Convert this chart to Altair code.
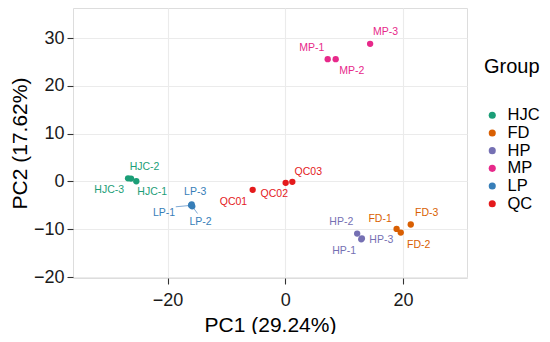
import altair as alt
import pandas as pd

samples = ["HJC-1", "HJC-2", "HJC-3", "FD-1", "FD-2", "FD-3", "HP-1", "HP-2", "HP-3",
           "MP-1", "MP-2", "MP-3", "LP-1", "LP-2", "LP-3", "QC01", "QC02", "QC03"]
groups = ["HJC"] * 3 + ["FD"] * 3 + ["HP"] * 3 + ["MP"] * 3 + ["LP"] * 3 + ["QC"] * 3
pc1 = [-25.3, -26.2, -26.7, 18.9, 19.6, 21.3, 12.9, 12.2, 13.0,
       7.2, 8.55, 14.4, -16.0, -15.8, -15.9, -5.54, 0.06, 1.19]
pc2 = [0.05, 0.6, 0.65, -9.93, -10.7, -9.0, -12.1, -10.9, -11.9,
       25.6, 25.6, 28.8, -5.0, -5.2, -4.8, -1.75, -0.28, -0.07]
label_x = [-22.6, -23.9, -29.9, 16.1, 22.65, 24.0, 10.0, 9.5, 16.3,
           4.5, 11.3, 17.0, -20.6, -14.4, -15.3, -8.8, -1.87, 3.9]
label_y = [-2.3, 3.06, -1.75, -7.76, -13.2, -6.7, -14.5, -8.5, -12.3,
           28.0, 23.2, 31.2, -6.5, -8.5, -2.3, -4.2, -2.6, 2.0]

seg_samples = ["LP-1", "LP-2"]
seg_x = [-18.6, -14.9]
seg_y = [-5.3, -6.7]
seg_x2 = [-16.0, -15.8]
seg_y2 = [-5.0, -5.2]

group_order = ["HJC", "FD", "HP", "MP", "LP", "QC"]
group_colors = ["#1B9E77", "#D95F02", "#7570B3", "#E7298A", "#377EB8", "#E41A1C"]

df = pd.DataFrame({"sample": samples, "Group": groups, "PC1": pc1, "PC2": pc2,
                   "lx": label_x, "ly": label_y})
seg = pd.DataFrame({"sample": seg_samples, "x": seg_x, "y": seg_y, "x2": seg_x2, "y2": seg_y2})

FONT = "Liberation Sans"
xs = alt.Scale(domain=[-36.05, 30.85], nice=False, zero=False)
ys = alt.Scale(domain=[-20.2, 36.3], nice=False, zero=False)
cs = alt.Scale(domain=group_order, range=group_colors)

xaxis = alt.Axis(title="PC1 (29.24%)", values=[-20, 0, 20], grid=True, gridColor="#EBEBEB",
                 gridWidth=1.1, domain=False, tickColor="#333333", tickSize=6, tickWidth=1.1,
                 labelFontSize=18, labelColor="#1A1A1A", labelFont=FONT, labelPadding=7,
                 titleFontSize=21, titleFont=FONT, titleFontWeight="normal", titleColor="#000000",
                 titlePadding=5)
yaxis = alt.Axis(title="PC2 (17.62%)", values=[-20, -10, 0, 10, 20, 30], grid=True,
                 gridColor="#EBEBEB", gridWidth=1.1, domain=False, tickColor="#333333",
                 tickSize=6, tickWidth=1.1, labelFontSize=18, labelColor="#1A1A1A",
                 labelFont=FONT, labelPadding=3, titleFontSize=21, titleFont=FONT,
                 titleFontWeight="normal", titleColor="#000000", titlePadding=3)

points = alt.Chart(df).mark_circle(size=40, opacity=1).encode(
    x=alt.X("PC1:Q", scale=xs, axis=xaxis),
    y=alt.Y("PC2:Q", scale=ys, axis=yaxis),
    color=alt.Color("Group:N", scale=cs, sort=group_order,
                    legend=alt.Legend(title="Group", orient="none", legendX=411, legendY=49,
                                      titleFontSize=20, titleFont=FONT, titleFontWeight="normal",
                                      titleColor="#000000", titlePadding=30,
                                      labelFontSize=16.5, labelFont=FONT, labelColor="#000000",
                                      symbolType="circle", symbolSize=50, symbolOffset=0,
                                      labelOffset=7, rowPadding=0.7, padding=0)),
)

labels = alt.Chart(df).mark_text(fontSize=10.5, font=FONT, align="center", baseline="middle").encode(
    x=alt.X("lx:Q", scale=xs),
    y=alt.Y("ly:Q", scale=ys),
    text="sample:N",
    color=alt.Color("Group:N", scale=cs, legend=None),
)

segments = alt.Chart(seg).mark_rule(color="#7FAAD6", strokeWidth=1).encode(
    x=alt.X("x:Q", scale=xs),
    y=alt.Y("y:Q", scale=ys),
    x2="x2:Q",
    y2="y2:Q",
)

chart = alt.layer(segments, points, labels).properties(
    width=394, height=270,
    autosize=alt.AutoSizeParams(type="none"),
    padding={"left": 65, "top": 0, "right": 75, "bottom": 56},
).configure_view(stroke="#4D4D4D", strokeWidth=1.3).configure(background="white")

chart.save("out.html", embed_options={"renderer": "svg", "actions": False})
